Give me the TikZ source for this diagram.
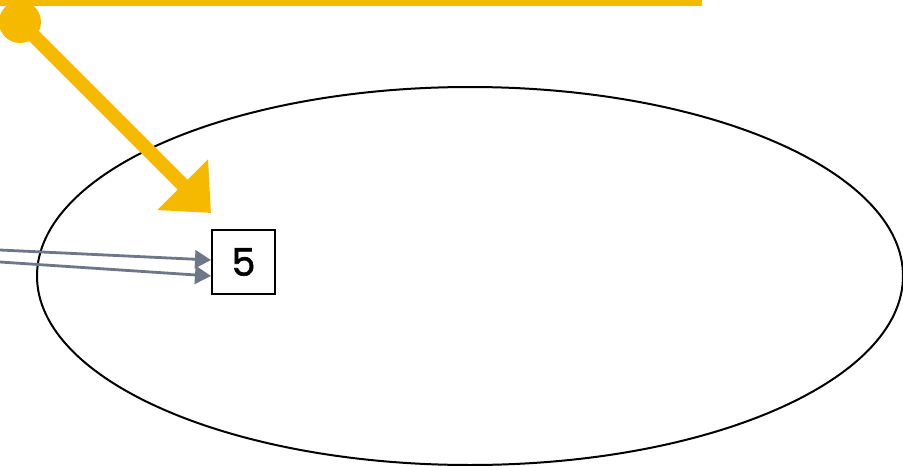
\documentclass[tikz,border=0pt]{standalone}
\usepackage{fontspec}
\setmainfont{Noto Sans}
\newfontfamily\numfont{Poppins}[FakeBold=1.6]
\usetikzlibrary{arrows.meta,shapes.geometric}
\definecolor{amber}{HTML}{F5BA00}
\definecolor{slate}{HTML}{6E7788}
\tikzset{
  numbox/.style={draw=black, line width=2pt, fill=white, minimum width=63pt, minimum height=64pt, inner sep=0pt, font=\numfont\fontsize{38}{40}\selectfont},
  feed/.style={draw=slate, line width=2.8pt, -{Triangle[length=16pt,width=18pt]}},
  pointer/.style={draw=amber, line width=14pt, -{Triangle[length=40pt,width=69pt]}},
}
\begin{document}
\begin{tikzpicture}[x=1pt,y=-1pt]
\useasboundingbox (0,0) rectangle (903,466);
\fill[white] (0,0) rectangle (903,466);
\draw[amber, line width=5.5pt] (0,2.75) -- (702,2.75);
\node[draw=black, line width=2pt, ellipse, minimum width=866pt, minimum height=378pt, inner sep=0pt] (region) at (470,276) {};
\node[numbox, anchor=north west] (box) at (211,229) {5};
\node[circle, fill=amber, minimum size=42pt, inner sep=0pt] (dot) at (20,22) {};
\coordinate (tip) at (211,213);
\draw[pointer] (dot.center) -- (tip);
\coordinate (s1) at (0,250);
\coordinate (s2) at (0,262);
\coordinate (e1) at (211,260);
\coordinate (e2) at (211,276);
\draw[feed] (s1) -- (e1);
\draw[feed] (s2) -- (e2);
\end{tikzpicture}
\end{document}
